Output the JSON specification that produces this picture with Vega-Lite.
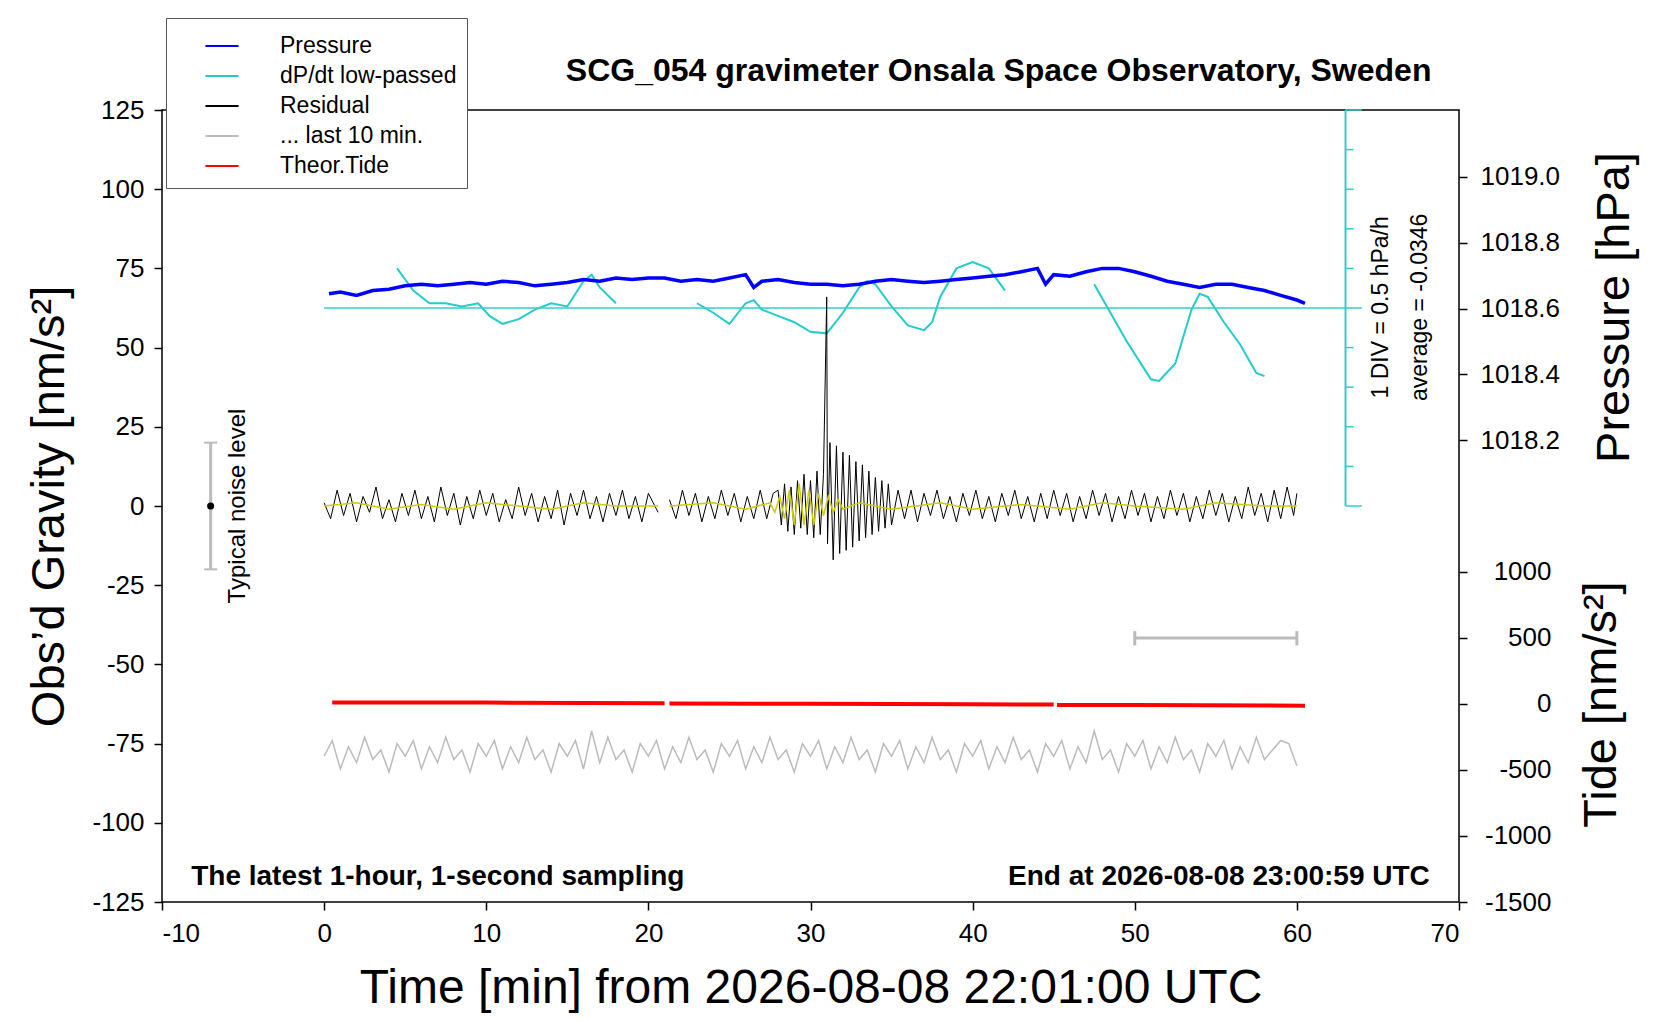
{
  "$schema": "https://vega.github.io/schema/vega-lite/v6.json",
  "autosize": "none",
  "width": 1297,
  "height": 792,
  "padding": {"left": 162, "top": 110, "right": 201, "bottom": 118},
  "background": "white",
  "config": {
    "font": "Liberation Sans",
    "view": {"stroke": "black", "strokeWidth": 1.5},
    "axis": {"labelFontSize": 26, "labelColor": "black", "tickColor": "black", "domain": false, "grid": false, "tickSize": 8, "tickWidth": 1.5, "labelPadding": 10, "titleFontWeight": "normal", "titleColor": "black", "labelExpr": "datum.value < 0 ? '-' + abs(datum.value) : '' + datum.value"},
    "legend": {"orient": "none", "legendX": 4, "legendY": -92, "fillColor": "white", "strokeColor": "#555", "padding": 10, "labelFontSize": 23, "labelLimit": 400, "symbolType": "stroke", "symbolSize": 1100, "symbolStrokeWidth": 2, "symbolOffset": 28, "rowPadding": 0, "labelOffset": 40, "title": null}
  },
  "datasets": {
    "residual": [
      {"t":0,"v":1,"s":1},{"t":0.4,"v":-4,"s":1},{"t":0.8,"v":5,"s":1},{"t":1.2,"v":-3,"s":1},{"t":1.6,"v":4,"s":1},{"t":2,"v":-5,"s":1},{"t":2.4,"v":3,"s":1},{"t":2.8,"v":-2,"s":1},{"t":3.2,"v":6,"s":1},{"t":3.6,"v":-4,"s":1},
      {"t":4,"v":2,"s":1},{"t":4.4,"v":-5,"s":1},{"t":4.8,"v":4,"s":1},{"t":5.2,"v":-3,"s":1},{"t":5.6,"v":5,"s":1},{"t":6,"v":-4,"s":1},{"t":6.4,"v":3,"s":1},{"t":6.8,"v":-5,"s":1},{"t":7.2,"v":6,"s":1},{"t":7.6,"v":-3,"s":1},
      {"t":8,"v":4,"s":1},{"t":8.4,"v":-6,"s":1},{"t":8.8,"v":3,"s":1},{"t":9.2,"v":-4,"s":1},{"t":9.6,"v":5,"s":1},{"t":10,"v":-3,"s":1},{"t":10.4,"v":4,"s":1},{"t":10.8,"v":-5,"s":1},{"t":11.2,"v":2,"s":1},{"t":11.6,"v":-4,"s":1},
      {"t":12,"v":6,"s":1},{"t":12.4,"v":-3,"s":1},{"t":12.8,"v":4,"s":1},{"t":13.2,"v":-5,"s":1},{"t":13.6,"v":3,"s":1},{"t":14,"v":-4,"s":1},{"t":14.4,"v":5,"s":1},{"t":14.8,"v":-6,"s":1},{"t":15.2,"v":4,"s":1},{"t":15.6,"v":-3,"s":1},
      {"t":16,"v":5,"s":1},{"t":16.4,"v":-4,"s":1},{"t":16.8,"v":3,"s":1},{"t":17.2,"v":-5,"s":1},{"t":17.6,"v":4,"s":1},{"t":18,"v":-3,"s":1},{"t":18.4,"v":5,"s":1},{"t":18.8,"v":-4,"s":1},{"t":19.2,"v":3,"s":1},{"t":19.6,"v":-5,"s":1},{"t":20,"v":4,"s":1},{"t":20.6,"v":-2,"s":1},
      {"t":21.3,"v":2,"s":2},{"t":21.7,"v":-4,"s":2},{"t":22.1,"v":5,"s":2},{"t":22.5,"v":-3,"s":2},{"t":22.9,"v":4,"s":2},{"t":23.3,"v":-5,"s":2},{"t":23.7,"v":3,"s":2},{"t":24.1,"v":-4,"s":2},{"t":24.5,"v":5,"s":2},{"t":24.9,"v":-3,"s":2},
      {"t":25.3,"v":4,"s":2},{"t":25.7,"v":-5,"s":2},{"t":26.1,"v":3,"s":2},{"t":26.5,"v":-4,"s":2},{"t":26.9,"v":5,"s":2},{"t":27.3,"v":-4,"s":2},{"t":27.7,"v":4,"s":2},
      {"t":28,"v":5,"s":2},{"t":28.2,"v":-6,"s":2},{"t":28.4,"v":7,"s":2},{"t":28.6,"v":-8,"s":2},{"t":28.8,"v":6,"s":2},{"t":29,"v":-9,"s":2},{"t":29.2,"v":8,"s":2},{"t":29.4,"v":-7,"s":2},{"t":29.6,"v":10,"s":2},{"t":29.8,"v":-9,"s":2},
      {"t":30,"v":8,"s":2},{"t":30.2,"v":-10,"s":2},{"t":30.4,"v":11,"s":2},{"t":30.6,"v":-9,"s":2},{"t":30.8,"v":10,"s":2},{"t":31,"v":66,"s":2},{"t":31.05,"v":-12,"s":2},{"t":31.2,"v":20,"s":2},{"t":31.4,"v":-17,"s":2},{"t":31.6,"v":19,"s":2},
      {"t":31.8,"v":-15,"s":2},{"t":32,"v":17,"s":2},{"t":32.2,"v":-14,"s":2},{"t":32.4,"v":16,"s":2},{"t":32.6,"v":-13,"s":2},{"t":32.8,"v":14,"s":2},{"t":33,"v":-11,"s":2},{"t":33.2,"v":13,"s":2},{"t":33.4,"v":-10,"s":2},{"t":33.6,"v":11,"s":2},
      {"t":33.8,"v":-9,"s":2},{"t":34,"v":9,"s":2},{"t":34.2,"v":-8,"s":2},{"t":34.4,"v":8,"s":2},{"t":34.6,"v":-7,"s":2},{"t":34.8,"v":7,"s":2},{"t":35,"v":-6,"s":2},
      {"t":35.4,"v":5,"s":2},{"t":35.8,"v":-4,"s":2},{"t":36.2,"v":5,"s":2},{"t":36.6,"v":-5,"s":2},{"t":37,"v":4,"s":2},{"t":37.4,"v":-3,"s":2},{"t":37.8,"v":5,"s":2},{"t":38.2,"v":-4,"s":2},{"t":38.6,"v":3,"s":2},{"t":39,"v":-5,"s":2},
      {"t":39.4,"v":4,"s":2},{"t":39.8,"v":-3,"s":2},{"t":40.2,"v":5,"s":2},{"t":40.6,"v":-4,"s":2},{"t":41,"v":3,"s":2},{"t":41.4,"v":-5,"s":2},{"t":41.8,"v":4,"s":2},{"t":42.2,"v":-3,"s":2},{"t":42.6,"v":5,"s":2},{"t":43,"v":-4,"s":2},
      {"t":43.4,"v":3,"s":2},{"t":43.8,"v":-5,"s":2},{"t":44.2,"v":4,"s":2},{"t":44.6,"v":-4,"s":2},{"t":45,"v":5,"s":2},{"t":45.4,"v":-3,"s":2},{"t":45.8,"v":4,"s":2},{"t":46.2,"v":-5,"s":2},{"t":46.6,"v":3,"s":2},{"t":47,"v":-4,"s":2},
      {"t":47.4,"v":5,"s":2},{"t":47.8,"v":-3,"s":2},{"t":48.2,"v":4,"s":2},{"t":48.6,"v":-5,"s":2},{"t":49,"v":3,"s":2},{"t":49.4,"v":-4,"s":2},{"t":49.8,"v":5,"s":2},{"t":50.2,"v":-3,"s":2},{"t":50.6,"v":4,"s":2},{"t":51,"v":-5,"s":2},
      {"t":51.4,"v":3,"s":2},{"t":51.8,"v":-4,"s":2},{"t":52.2,"v":5,"s":2},{"t":52.6,"v":-3,"s":2},{"t":53,"v":4,"s":2},{"t":53.4,"v":-5,"s":2},{"t":53.8,"v":3,"s":2},{"t":54.2,"v":-4,"s":2},{"t":54.6,"v":5,"s":2},{"t":55,"v":-3,"s":2},
      {"t":55.4,"v":4,"s":2},{"t":55.8,"v":-5,"s":2},{"t":56.2,"v":3,"s":2},{"t":56.6,"v":-4,"s":2},{"t":57,"v":6,"s":2},{"t":57.4,"v":-3,"s":2},{"t":57.8,"v":4,"s":2},{"t":58.2,"v":-5,"s":2},{"t":58.6,"v":5,"s":2},{"t":59,"v":-4,"s":2},
      {"t":59.4,"v":6,"s":2},{"t":59.8,"v":-3,"s":2},{"t":60,"v":4,"s":2}
    ],
    "smooth": [
      {"t":0,"v":0,"s":1},{"t":2,"v":1,"s":1},{"t":4,"v":-1,"s":1},{"t":6,"v":0.5,"s":1},{"t":8,"v":-1,"s":1},{"t":10,"v":1,"s":1},{"t":12,"v":0,"s":1},{"t":14,"v":-1,"s":1},{"t":16,"v":1,"s":1},{"t":18,"v":0,"s":1},{"t":20.6,"v":0,"s":1},
      {"t":21.3,"v":0,"s":2},{"t":24,"v":1,"s":2},{"t":26,"v":-1,"s":2},{"t":27.5,"v":1,"s":2},{"t":27.8,"v":-2,"s":2},{"t":28.1,"v":3,"s":2},{"t":28.4,"v":-4,"s":2},{"t":28.7,"v":5,"s":2},{"t":29,"v":-6,"s":2},{"t":29.3,"v":7,"s":2},
      {"t":29.6,"v":-6,"s":2},{"t":29.9,"v":5,"s":2},{"t":30.2,"v":-6,"s":2},{"t":30.5,"v":4,"s":2},{"t":30.8,"v":-3,"s":2},{"t":31.1,"v":3,"s":2},{"t":31.4,"v":-2,"s":2},{"t":31.7,"v":2,"s":2},{"t":32,"v":-1,"s":2},{"t":33,"v":1,"s":2},
      {"t":35,"v":-1,"s":2},{"t":38,"v":1,"s":2},{"t":40,"v":-1,"s":2},{"t":43,"v":0.5,"s":2},{"t":46,"v":-1,"s":2},{"t":48,"v":1,"s":2},{"t":50,"v":0,"s":2},{"t":53,"v":-1,"s":2},{"t":55,"v":1,"s":2},{"t":58,"v":0,"s":2},{"t":60,"v":0,"s":2}
    ],
    "last10": [
      {"t":0,"v":-79},{"t":0.5,"v":-74},{"t":1,"v":-83},{"t":1.5,"v":-76},{"t":2,"v":-81},{"t":2.5,"v":-73},{"t":3,"v":-80},{"t":3.5,"v":-77},{"t":4,"v":-84},{"t":4.5,"v":-75},
      {"t":5,"v":-79},{"t":5.5,"v":-74},{"t":6,"v":-83},{"t":6.5,"v":-76},{"t":7,"v":-81},{"t":7.5,"v":-73},{"t":8,"v":-80},{"t":8.5,"v":-77},{"t":9,"v":-84},{"t":9.5,"v":-75},
      {"t":10,"v":-79},{"t":10.5,"v":-74},{"t":11,"v":-83},{"t":11.5,"v":-76},{"t":12,"v":-81},{"t":12.5,"v":-73},{"t":13,"v":-80},{"t":13.5,"v":-77},{"t":14,"v":-84},{"t":14.5,"v":-75},
      {"t":15,"v":-79},{"t":15.5,"v":-74},{"t":16,"v":-83},{"t":16.5,"v":-71},{"t":17,"v":-81},{"t":17.5,"v":-73},{"t":18,"v":-80},{"t":18.5,"v":-77},{"t":19,"v":-84},{"t":19.5,"v":-75},
      {"t":20,"v":-79},{"t":20.5,"v":-74},{"t":21,"v":-83},{"t":21.5,"v":-76},{"t":22,"v":-81},{"t":22.5,"v":-73},{"t":23,"v":-80},{"t":23.5,"v":-77},{"t":24,"v":-84},{"t":24.5,"v":-75},
      {"t":25,"v":-79},{"t":25.5,"v":-74},{"t":26,"v":-83},{"t":26.5,"v":-76},{"t":27,"v":-81},{"t":27.5,"v":-73},{"t":28,"v":-80},{"t":28.5,"v":-77},{"t":29,"v":-84},{"t":29.5,"v":-75},
      {"t":30,"v":-79},{"t":30.5,"v":-74},{"t":31,"v":-83},{"t":31.5,"v":-76},{"t":32,"v":-81},{"t":32.5,"v":-73},{"t":33,"v":-80},{"t":33.5,"v":-77},{"t":34,"v":-84},{"t":34.5,"v":-75},
      {"t":35,"v":-79},{"t":35.5,"v":-74},{"t":36,"v":-83},{"t":36.5,"v":-76},{"t":37,"v":-81},{"t":37.5,"v":-73},{"t":38,"v":-80},{"t":38.5,"v":-77},{"t":39,"v":-84},{"t":39.5,"v":-75},
      {"t":40,"v":-79},{"t":40.5,"v":-74},{"t":41,"v":-83},{"t":41.5,"v":-76},{"t":42,"v":-81},{"t":42.5,"v":-73},{"t":43,"v":-80},{"t":43.5,"v":-77},{"t":44,"v":-84},{"t":44.5,"v":-75},
      {"t":45,"v":-79},{"t":45.5,"v":-74},{"t":46,"v":-83},{"t":46.5,"v":-76},{"t":47,"v":-81},{"t":47.5,"v":-71},{"t":48,"v":-80},{"t":48.5,"v":-77},{"t":49,"v":-84},{"t":49.5,"v":-75},
      {"t":50,"v":-79},{"t":50.5,"v":-74},{"t":51,"v":-83},{"t":51.5,"v":-76},{"t":52,"v":-81},{"t":52.5,"v":-73},{"t":53,"v":-80},{"t":53.5,"v":-77},{"t":54,"v":-84},{"t":54.5,"v":-75},
      {"t":55,"v":-79},{"t":55.5,"v":-74},{"t":56,"v":-83},{"t":56.5,"v":-76},{"t":57,"v":-81},{"t":57.5,"v":-73},{"t":58,"v":-80},{"t":58.5,"v":-77},{"t":59,"v":-74},{"t":59.5,"v":-75},{"t":60,"v":-82}
    ],
    "dpdt": [
      {"t":4.5,"v":75,"s":1},{"t":5.5,"v":68,"s":1},{"t":6.5,"v":64,"s":1},{"t":7.5,"v":64,"s":1},{"t":8.5,"v":63,"s":1},{"t":9.5,"v":64,"s":1},{"t":10.2,"v":60,"s":1},{"t":11,"v":57.5,"s":1},{"t":12,"v":59,"s":1},{"t":13,"v":62,"s":1},{"t":14,"v":64,"s":1},{"t":15,"v":63,"s":1},{"t":16,"v":71,"s":1},{"t":16.5,"v":73,"s":1},{"t":17,"v":69,"s":1},{"t":18,"v":64,"s":1},
      {"t":23,"v":64,"s":2},{"t":24,"v":61,"s":2},{"t":25,"v":57.5,"s":2},{"t":26,"v":64,"s":2},{"t":26.5,"v":65,"s":2},{"t":27,"v":62,"s":2},{"t":28,"v":60,"s":2},{"t":29,"v":58,"s":2},{"t":30,"v":55,"s":2},{"t":31,"v":54.5,"s":2},{"t":32,"v":61,"s":2},{"t":33,"v":69,"s":2},{"t":33.5,"v":71,"s":2},{"t":34,"v":70,"s":2},{"t":35,"v":63,"s":2},{"t":36,"v":57,"s":2},{"t":37,"v":55.5,"s":2},{"t":37.5,"v":58,"s":2},{"t":38,"v":66,"s":2},{"t":39,"v":75,"s":2},{"t":40,"v":77,"s":2},{"t":41,"v":75,"s":2},{"t":42,"v":68,"s":2},
      {"t":47.5,"v":70,"s":3},{"t":48.5,"v":61,"s":3},{"t":49.5,"v":52,"s":3},{"t":50.5,"v":44,"s":3},{"t":51,"v":40,"s":3},{"t":51.5,"v":39.5,"s":3},{"t":52.5,"v":45,"s":3},{"t":53.5,"v":62,"s":3},{"t":54,"v":67,"s":3},{"t":54.5,"v":66,"s":3},{"t":55.5,"v":58,"s":3},{"t":56.5,"v":51,"s":3},{"t":57.5,"v":42,"s":3},{"t":58,"v":41,"s":3}
    ],
    "pressure": [
      {"t":0.3,"p":1018.645},{"t":1,"p":1018.650},{"t":2,"p":1018.640},{"t":3,"p":1018.655},{"t":4,"p":1018.659},{"t":5,"p":1018.669},{"t":6,"p":1018.674},{"t":7,"p":1018.669},{"t":8,"p":1018.674},{"t":9,"p":1018.679},
      {"t":10,"p":1018.674},{"t":11,"p":1018.683},{"t":12,"p":1018.679},{"t":13,"p":1018.669},{"t":14,"p":1018.674},{"t":15,"p":1018.679},{"t":16,"p":1018.688},{"t":17,"p":1018.683},{"t":18,"p":1018.693},{"t":19,"p":1018.688},
      {"t":20,"p":1018.693},{"t":21,"p":1018.693},{"t":22,"p":1018.683},{"t":23,"p":1018.688},{"t":24,"p":1018.683},{"t":25,"p":1018.693},{"t":26,"p":1018.703},{"t":26.5,"p":1018.664},{"t":27,"p":1018.683},{"t":28,"p":1018.688},
      {"t":29,"p":1018.679},{"t":30,"p":1018.674},{"t":31,"p":1018.674},{"t":32,"p":1018.669},{"t":33,"p":1018.674},{"t":34,"p":1018.683},{"t":35,"p":1018.688},{"t":36,"p":1018.683},{"t":37,"p":1018.679},{"t":38,"p":1018.683},
      {"t":39,"p":1018.688},{"t":40,"p":1018.693},{"t":41,"p":1018.698},{"t":42,"p":1018.703},{"t":43,"p":1018.712},{"t":44,"p":1018.722},{"t":44.5,"p":1018.674},{"t":45,"p":1018.703},{"t":46,"p":1018.698},{"t":47,"p":1018.712},
      {"t":48,"p":1018.722},{"t":49,"p":1018.722},{"t":50,"p":1018.712},{"t":51,"p":1018.698},{"t":52,"p":1018.683},{"t":53,"p":1018.674},{"t":54,"p":1018.664},{"t":55,"p":1018.674},{"t":56,"p":1018.674},{"t":57,"p":1018.664},
      {"t":58,"p":1018.655},{"t":59,"p":1018.640},{"t":60,"p":1018.626},{"t":60.5,"p":1018.616}
    ],
    "tide": [
      {"t":0.5,"v":10,"s":1},{"t":10,"v":9,"s":1},{"t":21,"v":5,"s":1},{"t":21.3,"v":3,"s":2},{"t":30,"v":0,"s":2},{"t":40,"v":-4,"s":2},{"t":45,"v":-6,"s":2},{"t":45.2,"v":-9,"s":3},{"t":50,"v":-10,"s":3},{"t":60.5,"v":-14,"s":3}
    ],
    "cyanTicks": [
      {"t":63,"t2":63.5,"v":12.5},{"t":63,"t2":63.5,"v":25},{"t":63,"t2":63.5,"v":37.5},{"t":63,"t2":63.5,"v":50},{"t":63,"t2":63.5,"v":75},{"t":63,"t2":63.5,"v":87.5},{"t":63,"t2":63.5,"v":100},{"t":63,"t2":63.5,"v":112.5},
      {"t":63,"t2":64,"v":0},{"t":63,"t2":64,"v":125},{"t":0,"t2":64,"v":62.5}
    ]
  },
  "encoding": {
    "x": {"field": "t", "type": "quantitative", "scale": {"domain": [-10, 70], "nice": false}, "axis": {"values": [-10,0,10,20,30,40,50,60,70], "title": "Time [min] from 2026-08-08 22:01:00 UTC", "titleFontSize": 48, "titlePadding": 18}}
  },
  "resolve": {"scale": {"y": "independent"}},
  "layer": [
    {
      "encoding": {
        "y": {"field": "v", "type": "quantitative", "scale": {"domain": [-125, 125], "nice": false}, "axis": {"values": [-125,-100,-75,-50,-25,0,25,50,75,100,125], "title": "Obs’d Gravity [nm/s²]", "titleFontSize": 47, "titlePadding": 18}}
      },
      "layer": [
        {"data": {"name": "last10"}, "mark": {"type": "line", "strokeWidth": 1.5}, "encoding": {"color": {"datum": "... last 10 min."}}},
        {"data": {"name": "dpdt"}, "mark": {"type": "line", "strokeWidth": 2}, "encoding": {"detail": {"field": "s"}, "color": {"datum": "dP/dt low-passed"}}},
        {"data": {"name": "cyanTicks"}, "mark": {"type": "rule", "color": "#33cccc", "strokeWidth": 1.5}, "encoding": {"x2": {"field": "t2"}}},
        {"data": {"values": [{"t": 63, "v": 0, "v2": 125}]}, "mark": {"type": "rule", "color": "#33cccc", "strokeWidth": 2}, "encoding": {"y2": {"field": "v2"}}},
        {"data": {"name": "residual"}, "mark": {"type": "line", "strokeWidth": 1}, "encoding": {"detail": {"field": "s"}, "color": {"datum": "Residual"}}},
        {"data": {"name": "smooth"}, "mark": {"type": "line", "strokeWidth": 1.5, "color": "#cccc00"}, "encoding": {"detail": {"field": "s"}}},
        {"data": {"values": [{"t": -7, "v": -20, "v2": 20}, {"t": 50, "t2": 60, "v": -41.7}]}, "mark": {"type": "rule", "color": "#bbbbbb", "strokeWidth": 3}, "encoding": {"x2": {"field": "t2"}, "y2": {"field": "v2"}}},
        {"data": {"values": [{"t": -7.4, "t2": -6.6, "v": 20}, {"t": -7.4, "t2": -6.6, "v": -20}]}, "mark": {"type": "rule", "color": "#bbbbbb", "strokeWidth": 2}, "encoding": {"x2": {"field": "t2"}}},
        {"data": {"values": [{"t": 50, "v": -39.5, "v2": -44}, {"t": 60, "v": -39.5, "v2": -44}]}, "mark": {"type": "rule", "color": "#bbbbbb", "strokeWidth": 3}, "encoding": {"y2": {"field": "v2"}}},
        {"data": {"values": [{"t": -7, "v": 0}]}, "mark": {"type": "point", "filled": true, "color": "black", "size": 50, "opacity": 1}},
        {"data": {"values": [{"t": -5.3, "v": 0, "label": "Typical noise level"}]}, "mark": {"type": "text", "angle": 270, "fontSize": 24, "color": "black", "baseline": "middle"}, "encoding": {"text": {"field": "label"}}},
        {"data": {"values": [{"t": 65.2, "v": 62.7, "label": "1 DIV = 0.5 hPa/h"}, {"t": 67.6, "v": 62.7, "label": "average = -0.0346"}]}, "mark": {"type": "text", "angle": 270, "fontSize": 23, "color": "black", "baseline": "middle"}, "encoding": {"text": {"field": "label"}}},
        {"data": {"values": [{"t": -8.2, "v": -117, "label": "The latest 1-hour, 1-second sampling"}]}, "mark": {"type": "text", "align": "left", "fontSize": 28, "fontWeight": "bold", "color": "black", "baseline": "middle"}, "encoding": {"text": {"field": "label"}}},
        {"data": {"values": [{"t": 68.2, "v": -117, "label": "End at 2026-08-08 23:00:59 UTC"}]}, "mark": {"type": "text", "align": "right", "fontSize": 28, "fontWeight": "bold", "color": "black", "baseline": "middle"}, "encoding": {"text": {"field": "label"}}},
        {"data": {"values": [{"t": 68.3, "v": 137.3, "label": "SCG_054 gravimeter Onsala Space Observatory, Sweden"}]}, "mark": {"type": "text", "align": "right", "fontSize": 32, "fontWeight": "bold", "color": "black", "baseline": "middle"}, "encoding": {"text": {"field": "label"}}}
      ]
    },
    {
      "data": {"name": "pressure"},
      "mark": {"type": "line", "strokeWidth": 3.5},
      "encoding": {
        "y": {"field": "p", "type": "quantitative", "scale": {"domain": [1016.798, 1019.203], "nice": false, "zero": false}, "axis": {"orient": "right", "offset": 0, "values": [1018.2,1018.4,1018.6,1018.8,1019.0], "labelExpr": "format(datum.value, '.1f')", "title": "Pressure [hPa]", "titleFontSize": 47, "titleAngle": 270, "titleX": 155, "titleY": 197, "titleAlign": "center", "titleBaseline": "middle", "labelPadding": 13}},
        "color": {"datum": "Pressure", "scale": {"domain": ["Pressure", "dP/dt low-passed", "Residual", "... last 10 min.", "Theor.Tide"], "range": ["#0000ff", "#22cccc", "#000000", "#bbbbbb", "#ff0000"]}}
      }
    },
    {
      "data": {"name": "tide"},
      "mark": {"type": "line", "strokeWidth": 4},
      "encoding": {
        "y": {"field": "v", "type": "quantitative", "scale": {"domain": [-1500, 4494], "nice": false}, "axis": {"orient": "right", "offset": 0, "values": [-1500,-1000,-500,0,500,1000], "labelAlign": "right", "labelPadding": 84, "title": "Tide [nm/s²]", "titleFontSize": 47, "titleAngle": 270, "titleX": 142, "titleY": 594, "titleAlign": "center", "titleBaseline": "middle"}},
        "detail": {"field": "s"},
        "color": {"datum": "Theor.Tide"}
      }
    }
  ]
}
